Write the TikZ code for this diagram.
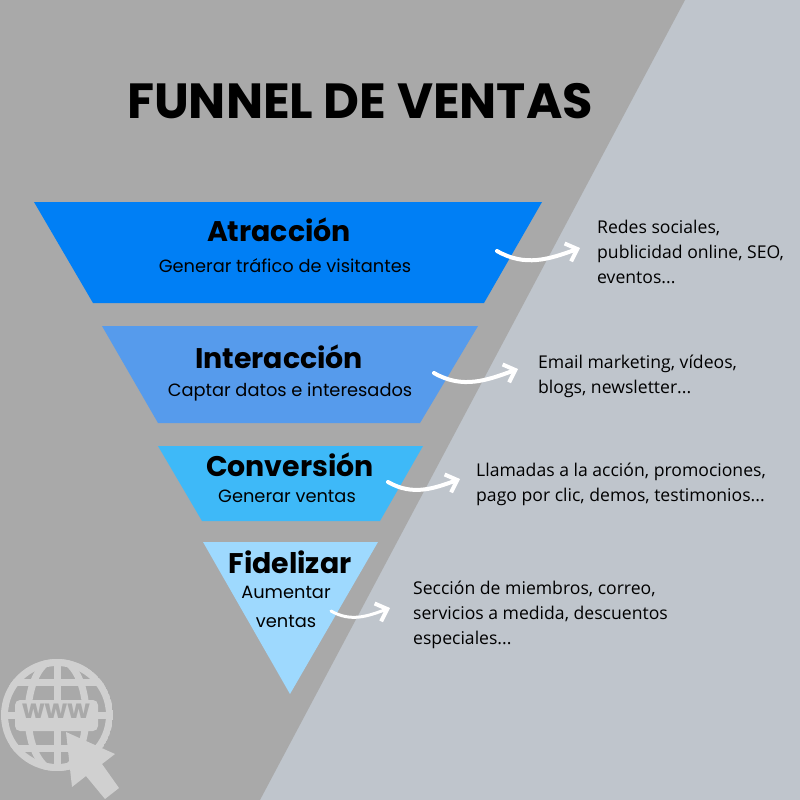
\documentclass[tikz,border=0pt]{standalone}
\usepackage{fontspec}
\setmainfont{Poppins}
\newfontfamily\notefont{Open Sans}
\usetikzlibrary{arrows.meta}
\definecolor{fnback}{RGB}{191,197,204}
\definecolor{fngray}{RGB}{169,169,169}
\definecolor{fnicon}{RGB}{208,208,208}
\definecolor{fnone}{RGB}{0,127,245}
\definecolor{fntwo}{RGB}{86,155,236}
\definecolor{fnthree}{RGB}{62,185,248}
\definecolor{fnfour}{RGB}{158,217,254}
\tikzset{
  fnhead/.style={font=\bfseries\fontsize{28.4}{30}\selectfont, text=black, inner sep=0pt},
  fnsub/.style={font=\fontsize{17.8}{20}\selectfont, text=black, inner sep=0pt},
  fnnote/.style={font=\notefont\fontsize{17.6}{25}\selectfont, text=black, align=left, anchor=west, inner sep=0pt},
  fnarrow/.style={-{Straight Barb[length=10pt,width=19pt,line width=4pt]}, line width=4pt, draw=white, line cap=round},
  fnring/.style={draw=fnicon, line width=7pt}
}
\begin{document}
\begin{tikzpicture}[x=1pt,y=-1pt]
\useasboundingbox (0,0) rectangle (800,800);
\fill[fnback] (0,0) rectangle (800,800);
\fill[fngray] (0,0) -- (685,0) -- (260,800) -- (0,800) -- cycle;
% funnel
\fill[fnone] (34,202) -- (542,202) -- (484,303) -- (93,303) -- cycle;
\fill[fntwo] (102,326) -- (478,326) -- (420,423) -- (158,423) -- cycle;
\fill[fnthree] (158,446) -- (423,446) -- (380,521) -- (202,521) -- cycle;
\fill[fnfour] (203,542) -- (378,542) -- (290,694) -- cycle;
\node[font=\bfseries\fontsize{49.4}{50}\selectfont, inner sep=0pt] (title) at (360,101) {FUNNEL DE VENTAS};
\node[fnhead] (atr) at (279,230) {Atracción};
\node[fnsub] (atrsub) at (285,266) {Generar tráfico de visitantes};
\node[fnhead] (int) at (279,357) {Interacción};
\node[fnsub] (intsub) at (290,392) {Captar datos e interesados};
\node[fnhead] (con) at (290,465) {Conversión};
\node[fnsub] (consub) at (287,496) {Generar ventas};
\node[fnhead] (fid) at (290,562) {Fidelizar};
\node[fnsub] (fidsub) at (286,592) {Aumentar};
\node[fnsub] (fidsubb) at (286,621) {ventas};
\node[fnnote] (atrnote) at (597,252) {Redes sociales,\\publicidad online, SEO,\\eventos...};
\node[fnnote] (intnote) at (538,376) {Email marketing, vídeos,\\blogs, newsletter...};
\node[fnnote] (connote) at (476,484) {Llamadas a la acción, promociones,\\pago por clic, demos, testimonios...};
\node[fnnote] (fidnote) at (413,615) {Sección de miembros, correo,\\servicios a medida, descuentos\\especiales...};
\coordinate (atrs) at (497,251);
\coordinate (atre) at (580,248);
\coordinate (ints) at (434,373);
\coordinate (inte) at (518,369);
\coordinate (cons) at (388,482);
\coordinate (cone) at (460,479);
\coordinate (fids) at (331,611);
\coordinate (fide) at (390,608);
\draw[fnarrow] (atrs) to[out=-30,in=200] (atre);
\draw[fnarrow] (ints) to[out=-30,in=200] (inte);
\draw[fnarrow] (cons) to[out=-30,in=200] (cone);
\draw[fnarrow, line width=3pt] (fids) to[out=-30,in=200] (fide);
% icon
\begin{scope}
\clip (57,715) circle (56);
\draw[fnring] (57,715) circle (52.5);
\draw[fnring] (57,715) ellipse (29 and 56);
\draw[fnring] (57,660) -- (57,770);
\draw[fnring] (0,682) -- (114,682);
\draw[fnring] (0,715) -- (114,715);
\draw[fnring] (0,748) -- (114,748);
\end{scope}
\fill[fnicon, rounded corners=5pt] (15,700) rectangle (98,731);
\node[font=\bfseries\fontsize{26}{26}\selectfont, text=fngray, inner sep=0pt] (www) at (56,711) {www};
\fill[fnicon] (66,732) -- (115,754) -- (102,764) -- (119,788) -- (105,799) -- (86,776) -- (72,787) -- cycle;
\end{tikzpicture}
\end{document}
